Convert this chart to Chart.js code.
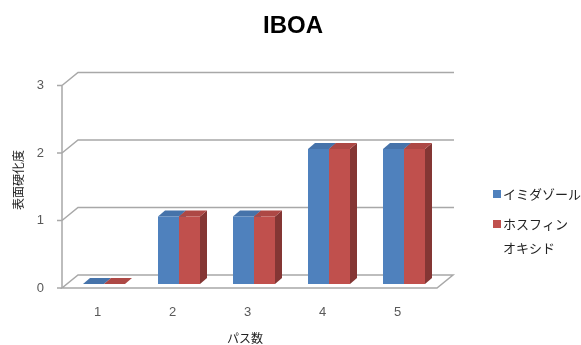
<!DOCTYPE html>
<html>
<head>
<meta charset="utf-8">
<script src="https://cdn.jsdelivr.net/npm/chart.js@4.4.0/dist/chart.umd.min.js"></script>
<style>
  html, body { margin: 0; padding: 0; background: #fff; }
  #wrap { width: 581px; height: 345px; }
</style>
</head>
<body>
<div id="wrap"><canvas id="chart"></canvas></div>
<script>
// chart data
const titleText = 'IBOA';
const categories = ['1', '2', '3', '4', '5'];
const imidazole = [0, 1, 1, 2, 2];
const phosphineOxide = [0, 1, 1, 2, 2];
const yTicks = [0, 1, 2, 3];
const yTitle = '表面硬化度';
const xTitle = 'パス数';
const legendLines = [['イミダゾール'], ['ホスフィン', 'オキシド']];

const jpFont = '"Noto Sans CJK JP", "Noto Sans", sans-serif';
const numFont = '"Liberation Sans", Arial, sans-serif';

// colors of the faces: front, side, top
const faces = [
    { front: '#4F81BD', side: '#385D8A', top: '#4673AA' },
    { front: '#C0504D', side: '#843634', top: '#AD4845' }
];

// 3d look drawn around the native bars
const fake3d = {
    id: 'fake3d',
    beforeDatasetsDraw(chart) {
        const ctx = chart.ctx;
        const area = chart.chartArea;
        const y = chart.scales.y;
        const x = chart.scales.x;
        const fx = area.left - 4.5;      // front axis
        const fRight = area.right - 4.5;
        const off = 4;                   // front axis sits a bit lower than bars
        const wall = { dx: 16, dy: -13 };
        const depth = { dx: 7, dy: -6 };

        ctx.save();
        ctx.lineWidth = 1.5;
        ctx.strokeStyle = '#A8A8A8';

        // floor
        const y0 = y.getPixelForValue(0) + off;
        ctx.beginPath();
        ctx.moveTo(fx, y0);
        ctx.lineTo(fRight, y0);
        ctx.lineTo(fRight + wall.dx, y0 + wall.dy);
        ctx.lineTo(fx + wall.dx, y0 + wall.dy);
        ctx.closePath();
        ctx.fillStyle = '#fff';
        ctx.fill();
        ctx.stroke();

        // gridlines on side and back wall
        yTicks.forEach(v => {
            if (v === 0) return;
            const py = y.getPixelForValue(v) + off;
            ctx.beginPath();
            ctx.moveTo(fx, py);
            ctx.lineTo(fx + wall.dx, py + wall.dy);
            ctx.lineTo(fRight + wall.dx + 1, py + wall.dy);
            ctx.stroke();
        });

        // front axis and its ticks
        ctx.beginPath();
        ctx.moveTo(fx, y.getPixelForValue(yTicks[yTicks.length - 1]) + off);
        ctx.lineTo(fx, y0);
        yTicks.forEach(v => {
            const py = y.getPixelForValue(v) + off;
            ctx.moveTo(fx - 5, py);
            ctx.lineTo(fx, py);
        });
        ctx.stroke();

        // tick labels
        ctx.fillStyle = '#595959';
        ctx.font = '13px ' + numFont;
        ctx.textAlign = 'right';
        ctx.textBaseline = 'middle';
        yTicks.forEach(v => {
            ctx.fillText(String(v), fx - 18, y.getPixelForValue(v) + off);
        });
        ctx.textAlign = 'center';
        categories.forEach((c, i) => {
            ctx.fillText(c, x.getPixelForValue(i) - 6.5, 312);
        });

        // side and top faces of the bars
        chart.data.datasets.forEach((ds, di) => {
            const meta = chart.getDatasetMeta(di);
            meta.data.forEach(bar => {
                const p = bar.getProps(['x', 'y', 'base', 'width'], true);
                const l = p.x - p.width / 2;
                const r = p.x + p.width / 2;
                ctx.fillStyle = faces[di].side;
                ctx.beginPath();
                ctx.moveTo(r, p.y);
                ctx.lineTo(r + depth.dx, p.y + depth.dy);
                ctx.lineTo(r + depth.dx, p.base + depth.dy);
                ctx.lineTo(r, p.base);
                ctx.closePath();
                ctx.fill();
                ctx.fillStyle = faces[di].top;
                ctx.beginPath();
                ctx.moveTo(l, p.y);
                ctx.lineTo(l + depth.dx, p.y + depth.dy);
                ctx.lineTo(r + depth.dx, p.y + depth.dy);
                ctx.lineTo(r, p.y);
                ctx.closePath();
                ctx.fill();
            });
        });
        ctx.restore();
    },
    afterDraw(chart) {
        const ctx = chart.ctx;
        ctx.save();

        // title
        ctx.fillStyle = '#000';
        ctx.font = 'bold 24px ' + numFont;
        ctx.textAlign = 'center';
        ctx.textBaseline = 'middle';
        ctx.fillText(titleText, 293, 26);

        // axis titles
        ctx.fillStyle = '#222';
        ctx.font = '12px ' + jpFont;
        ctx.fillText(xTitle, 245, 338);
        ctx.save();
        ctx.translate(18, 180);
        ctx.rotate(-Math.PI / 2);
        ctx.fillText(yTitle, 0, 0);
        ctx.restore();

        // legend
        ctx.font = '13px ' + jpFont;
        ctx.textAlign = 'left';
        const rows = [194, 224];
        legendLines.forEach((lines, i) => {
            ctx.fillStyle = faces[i].front;
            ctx.fillRect(493, rows[i] - 4, 8, 8);
            ctx.fillStyle = '#222';
            lines.forEach((t, k) => {
                ctx.fillText(t, 503, rows[i] + k * 24);
            });
        });
        ctx.restore();
    }
};

new Chart(document.getElementById('chart'), {
    type: 'bar',
    data: {
        labels: categories,
        datasets: [
            {
                label: legendLines[0].join(''),
                data: imidazole,
                backgroundColor: faces[0].front,
                borderWidth: 0
            },
            {
                label: legendLines[1].join(''),
                data: phosphineOxide,
                backgroundColor: faces[1].front,
                borderWidth: 0
            }
        ]
    },
    options: {
        responsive: true,
        maintainAspectRatio: false,
        animation: false,
        layout: {
            padding: { left: 66.5, right: 139.5, top: 81.5, bottom: 61 }
        },
        datasets: {
            bar: { categoryPercentage: 0.56, barPercentage: 1.0 }
        },
        scales: {
            x: { display: false },
            y: { display: false, min: 0, max: 3 }
        },
        plugins: {
            legend: { display: false },
            title: { display: false },
            tooltip: { enabled: false }
        }
    },
    plugins: [fake3d]
});
</script>
</body>
</html>
